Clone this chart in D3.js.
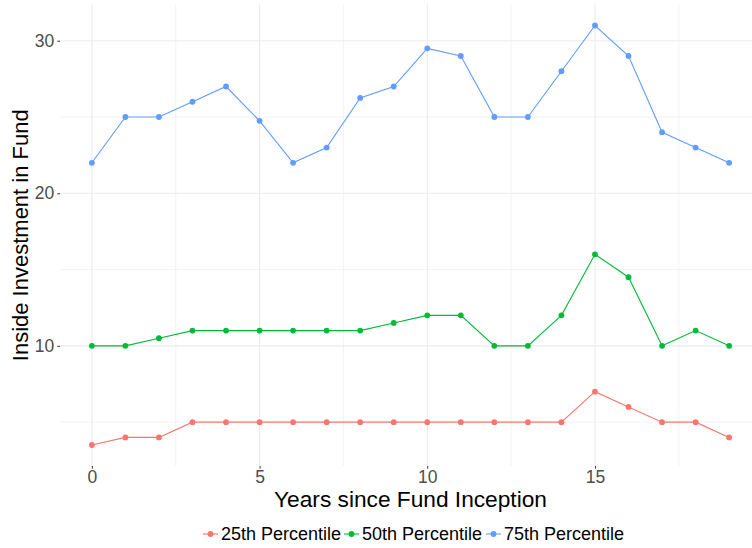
<!DOCTYPE html>
<html>
<head>
<meta charset="utf-8">
<script src="https://d3js.org/d3.v7.min.js"></script>
<style>
  body { margin: 0; background: #fff; }
  svg { display: block; font-family: "Liberation Sans", Arial, Helvetica, sans-serif; }
  .grid line { stroke: #ebebeb; }
</style>
</head>
<body>
<div id="chart"></div>
<script>
// data
var years = d3.range(0, 20);
var p25 = [3.5, 4, 4, 5, 5, 5, 5, 5, 5, 5, 5, 5, 5, 5, 5, 7, 6, 5, 5, 4];
var p50 = [10, 10, 10.5, 11, 11, 11, 11, 11, 11, 11.5, 12, 12, 10, 10, 12, 16, 14.5, 10, 11, 10];
var p75 = [22, 25, 25, 26, 27, 24.75, 22, 23, 26.25, 27, 29.5, 29, 25, 25, 28, 31, 29, 24, 23, 22];
var seriesNames = ["25th Percentile", "50th Percentile", "75th Percentile"];
var seriesColors = ["#F8766D", "#00BA38", "#619CFF"];
var xTicks = [0, 5, 10, 15];
var xMinor = [2.5, 7.5, 12.5, 17.5];
var yTicks = [10, 20, 30];
var yMinor = [5, 15, 25];

var width = 752, height = 548;
var panel = {left: 60, right: 761, top: 4.5, bottom: 466};

var svg = d3.select("#chart").append("svg")
    .attr("width", width)
    .attr("height", height);

var x = d3.scaleLinear().domain([-0.95, 19.95]).range([panel.left, panel.right]);
var y = d3.scaleLinear().domain([2.125, 32.375]).range([panel.bottom, panel.top]);

var grid = svg.append("g").attr("class", "grid");
grid.selectAll(".ymin").data(yMinor).enter().append("line")
    .attr("x1", panel.left).attr("x2", panel.right)
    .attr("y1", function(d) { return y(d); }).attr("y2", function(d) { return y(d); })
    .attr("stroke-width", 0.6);
grid.selectAll(".xmin").data(xMinor).enter().append("line")
    .attr("y1", panel.top).attr("y2", panel.bottom)
    .attr("x1", function(d) { return x(d); }).attr("x2", function(d) { return x(d); })
    .attr("stroke-width", 0.6);
grid.selectAll(".ymaj").data(yTicks).enter().append("line")
    .attr("x1", panel.left).attr("x2", panel.right)
    .attr("y1", function(d) { return y(d); }).attr("y2", function(d) { return y(d); })
    .attr("stroke-width", 1.1);
grid.selectAll(".xmaj").data(xTicks).enter().append("line")
    .attr("y1", panel.top).attr("y2", panel.bottom)
    .attr("x1", function(d) { return x(d); }).attr("x2", function(d) { return x(d); })
    .attr("stroke-width", 1.1);

// axes
var xAxis = svg.append("g")
    .attr("transform", "translate(0," + panel.bottom + ")")
    .call(d3.axisBottom(x).tickValues(xTicks).tickSize(2.7).tickPadding(2));
var yAxis = svg.append("g")
    .attr("transform", "translate(" + panel.left + ",0)")
    .call(d3.axisLeft(y).tickValues(yTicks).tickSize(2.7).tickPadding(3));
[xAxis, yAxis].forEach(function(a) {
  a.select(".domain").remove();
  a.selectAll(".tick line").attr("stroke", "#333").attr("stroke-width", 1);
  a.selectAll("text").attr("fill", "#4d4d4d").style("font-size", "17.5px")
    .style("font-family", "'Liberation Sans', Arial, sans-serif");
});

// series
var series = [p25, p50, p75];
var line = d3.line()
    .x(function(d, i) { return x(years[i]); })
    .y(function(d) { return y(d); });

series.forEach(function(vals, k) {
  svg.append("path")
      .datum(vals)
      .attr("fill", "none")
      .attr("stroke", seriesColors[k])
      .attr("stroke-width", 1.1)
      .attr("d", line);
  svg.append("g").selectAll("circle")
      .data(vals)
    .enter().append("circle")
      .attr("cx", function(d, i) { return x(years[i]); })
      .attr("cy", function(d) { return y(d); })
      .attr("r", 2.9)
      .attr("fill", seriesColors[k]);
});

// titles
svg.append("text")
    .attr("x", (panel.left + panel.right) / 2)
    .attr("y", 507)
    .attr("text-anchor", "middle")
    .style("font-size", "22.7px")
    .attr("fill", "#000")
    .text("Years since Fund Inception");

svg.append("text")
    .attr("transform", "translate(28," + ((panel.top + panel.bottom) / 2) + ") rotate(-90)")
    .attr("text-anchor", "middle")
    .style("font-size", "22px")
    .attr("fill", "#000")
    .text("Inside Investment in Fund");

// legend
var legendX = [203, 344, 486];
var legend = svg.append("g");
seriesNames.forEach(function(name, k) {
  var g = legend.append("g").attr("transform", "translate(" + legendX[k] + ",534)");
  g.append("line").attr("x1", 0).attr("x2", 15).attr("y1", 0).attr("y2", 0)
      .attr("stroke", seriesColors[k]).attr("stroke-width", 1.1);
  g.append("circle").attr("cx", 7.5).attr("cy", 0).attr("r", 2.9).attr("fill", seriesColors[k]);
  g.append("text").attr("x", 18).attr("y", 6.3)
      .style("font-size", "18px").attr("fill", "#000")
      .text(name);
});
</script>
</body>
</html>
